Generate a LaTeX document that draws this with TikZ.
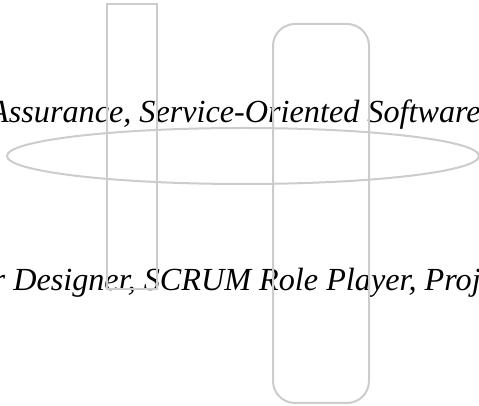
\documentclass[tikz,border=0pt]{standalone}
\usepackage{fontspec}
\setmainfont{Liberation Serif}
\usetikzlibrary{shapes.geometric}

\begin{document}
\begin{tikzpicture}
  [x=1pt, y=1pt,
   outline/.style={draw=black!20, line width=2pt, inner sep=0pt},
   line/.style={font=\itshape\fontsize{32.2}{36}\selectfont, inner sep=0pt}]
  \useasboundingbox (0,0) rectangle (479,406);
  \node [line, anchor=base west] (first) at (-11,283) {Assurance, Service-Oriented Software};
  \node [line, anchor=base west] (second) at (-7.5,115) {r Designer, SCRUM Role Player, Proj};

  \node [outline, rectangle, minimum width=50, minimum height=285] (bar) at (132,259.5) {};
  \node [outline, rectangle, rounded corners=22, minimum width=96, minimum height=379] (pill) at (321,192.5) {};
  \node [outline, ellipse, minimum width=472, minimum height=56] (ring) at (243,250) {};
\end{tikzpicture}
\end{document}
